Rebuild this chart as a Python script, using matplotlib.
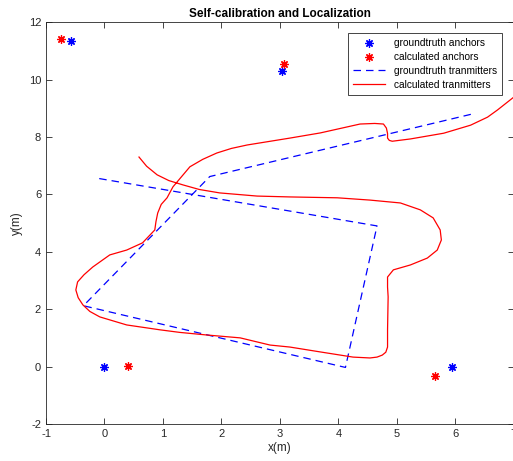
import numpy as np
import matplotlib
matplotlib.use('Agg')
import matplotlib.pyplot as plt

plt.rcParams['font.family'] = ['Liberation Sans', 'DejaVu Sans']
plt.rcParams['axes.unicode_minus'] = False

# アンカー（真値と推定値）
gt_anchor_x = [-0.58, 3.03, 0.0, 5.95]
gt_anchor_y = [11.33, 10.28, 0.0, 0.0]
calc_anchor_x = [-0.74, 3.07, 0.40, 5.65]
calc_anchor_y = [11.40, 10.53, 0.02, -0.33]

# 送信機の軌跡（真値）
gt_tx_x = [-0.09, 4.66, 4.12, -0.36, 1.80, 6.29]
gt_tx_y = [6.55, 4.90, -0.03, 2.12, 6.62, 8.80]

# 送信機の軌跡（推定値）
calc_tx_x = [0.59, 0.72, 0.90, 1.10, 1.34, 1.62, 1.97, 2.61, 3.17, 3.98,
             4.54, 5.06, 5.40, 5.62, 5.74, 5.76, 5.69, 5.52, 5.23, 4.94,
             4.84, 4.84, 4.85, 4.84, 4.84, 4.81, 4.75, 4.66, 4.54, 4.25,
             3.69, 3.17, 2.83, 2.32, 1.75, 1.29, 0.95, 0.38, -0.08, -0.25,
             -0.37, -0.45, -0.49, -0.46, -0.35, -0.20, 0.09, 0.38, 0.65, 0.86,
             0.88, 0.91, 0.97, 1.07, 1.17, 1.46, 1.68, 1.92, 2.17, 2.44,
             3.17, 3.69, 4.37, 4.62, 4.77, 4.82, 4.84, 4.84, 4.87, 4.92,
             5.23, 5.80, 6.26, 6.55, 6.72, 7.00, 7.10]
calc_tx_y = [7.30, 6.98, 6.68, 6.48, 6.33, 6.17, 6.05, 5.94, 5.91, 5.88,
             5.80, 5.70, 5.46, 5.18, 4.76, 4.41, 4.06, 3.78, 3.54, 3.37,
             3.12, 2.77, 2.43, 1.28, 0.68, 0.50, 0.40, 0.33, 0.30, 0.33,
             0.51, 0.68, 0.75, 1.00, 1.10, 1.19, 1.28, 1.45, 1.73, 1.92,
             2.15, 2.40, 2.67, 2.95, 3.20, 3.47, 3.89, 4.06, 4.31, 4.76,
             5.05, 5.35, 5.65, 5.88, 6.26, 6.96, 7.22, 7.44, 7.60, 7.72,
             7.96, 8.14, 8.45, 8.47, 8.45, 8.31, 8.12, 7.96, 7.88, 7.85,
             7.93, 8.13, 8.41, 8.69, 8.94, 9.39, 9.60]

fig = plt.figure(figsize=(5.13, 4.61), dpi=100)
ax = fig.add_axes([0.0897, 0.0803, 0.912, 0.8717])

star = (8, 2, 0)
ax.plot(gt_anchor_x, gt_anchor_y, linestyle='none', marker=star, color='b',
        markersize=6, markeredgewidth=0.9, label='groundtruth anchors')
ax.plot(calc_anchor_x, calc_anchor_y, linestyle='none', marker=star, color='r',
        markersize=6, markeredgewidth=0.9, label='calculated anchors')
ax.plot(gt_tx_x, gt_tx_y, color='b', linewidth=0.9, dashes=(6, 4),
        label='groundtruth tranmitters')
ax.plot(calc_tx_x, calc_tx_y, color='r', linewidth=0.9,
        label='calculated tranmitters')

ax.set_xlim(-1, 7)
ax.set_ylim(-2, 12)
ax.set_xticks(range(-1, 8))
ax.set_yticks(range(-2, 13, 2))
ax.tick_params(direction='in', top=True, right=True, labelsize=8,
               colors='0.15', length=4, width=0.6)
for s in ax.spines.values():
    s.set_color('0.15')
    s.set_linewidth(0.6)

ax.set_title('Self-calibration and Localization', fontsize=8.5,
             fontweight='bold', pad=4)
ax.set_xlabel('x(m)', fontsize=8.5, color='0.15', labelpad=2)
ax.set_ylabel('y(m)', fontsize=8.5, color='0.15', labelpad=4)

leg = ax.legend(loc='upper right', bbox_to_anchor=(0.985, 0.985), fontsize=7.3,
                fancybox=False, edgecolor='0.15', framealpha=1,
                handlelength=3.2, borderpad=0.5, labelspacing=0.38)
leg.get_frame().set_linewidth(0.6)

fig.savefig('out.png', dpi=100)
